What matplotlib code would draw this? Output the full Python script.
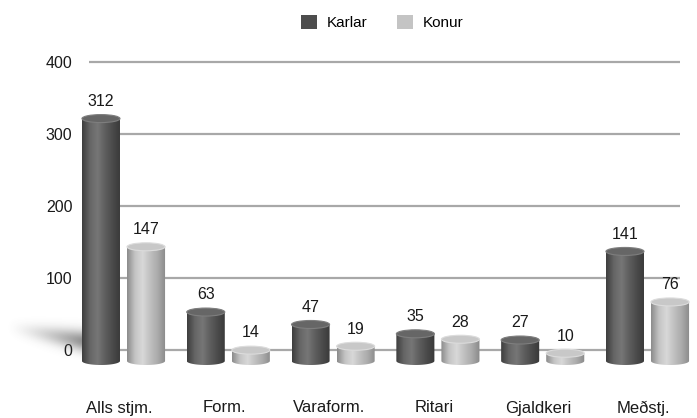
import numpy as np
import matplotlib.pyplot as plt
from matplotlib.colors import LinearSegmentedColormap
from matplotlib.patches import Ellipse, Polygon, Patch

plt.rcParams['font.family'] = ['Liberation Sans', 'DejaVu Sans']

categories = ['Alls stjm.', 'Form.', 'Varaform.', 'Ritari', 'Gjaldkeri', 'Meðstj.']
karlar = [312, 63, 47, 35, 27, 141]
konur = [147, 14, 19, 28, 10, 76]
yticks = [0, 100, 200, 300, 400]

W, H = 697, 418
fig = plt.figure(figsize=(W / 100, H / 100), dpi=100)

# grid / y-axis (flat back wall)
gx0, gx1 = 89, 680
ax = fig.add_axes([gx0 / W, 0, (gx1 - gx0) / W, 1])
ax.set_ylim(-68 / 0.72, (H - 68) / 0.72)
ax.set_xlim(0, 1)
ax.set_yticks(yticks)
ax.set_xticks([])
ax.grid(axis='y', color='#a8a8a8', linewidth=1.6)
ax.tick_params(axis='y', length=0, pad=12, labelsize=11.5, labelcolor='#1a1a1a')
for s in ax.spines.values():
    s.set_visible(False)
ax.patch.set_visible(False)

# bars (slightly larger scale, like the 3d front plane)
px_x, px_y = 104.8, 0.777
bx = fig.add_axes([0, 0, 1, 1])
bx.set_xlim(-123.5 / px_x, (W - 123.5) / px_x)
bx.set_ylim(-57 / px_y, (H - 57) / px_y)
bx.axis('off')

# soft shadow on the left
sx = np.linspace(0, 1, 200)
sy = np.linspace(0, 1, 100)
XX, YY = np.meshgrid(sx, sy)
centre = 0.42 + 0.33 * (1 - XX)
spread = 0.24 - 0.08 * (1 - XX)
alpha = 0.65 * np.exp(-((YY - centre) / spread) ** 2) * XX ** 1.4
shadow = np.zeros(alpha.shape + (4,))
shadow[..., :3] = 0.3
shadow[..., 3] = alpha
bx.imshow(shadow, extent=(-123.5 / px_x + 6 / px_x, -123.5 / px_x + 86 / px_x,
                          (H - 360 - 57) / px_y, (H - 316 - 57) / px_y),
          aspect='auto', origin='lower', zorder=1, interpolation='bilinear')

dark = LinearSegmentedColormap.from_list('d', ['#3e3e3e', '#666666', '#767676', '#5e5e5e', '#4a4a4a', '#383838'])
light = LinearSegmentedColormap.from_list('l', ['#8c8c8c', '#c4c4c4', '#d8d8d8', '#c0c0c0', '#aaaaaa', '#8a8a8a'])

bw, off = 0.363, 0.215
eh = 8 / px_y
x = np.arange(len(categories))


def cylinder(xc, val, cmap, topc, edgec):
    x0, x1 = xc - bw / 2, xc + bw / 2
    t = np.linspace(np.pi, 2 * np.pi, 40)
    bottom = np.column_stack([xc + bw / 2 * np.cos(t), eh / 2 * np.sin(t)])
    pts = np.vstack([[x0, val], bottom, [x1, val]])
    body = Polygon(pts, closed=True, facecolor='none', edgecolor='none', zorder=3)
    bx.add_patch(body)
    im = bx.imshow(np.linspace(0, 1, 64)[None, :], cmap=cmap, aspect='auto',
                   extent=(x0, x1, -eh, val), zorder=3, interpolation='bilinear')
    im.set_clip_path(body)
    bx.add_patch(Ellipse((xc, val), bw, eh, facecolor=topc, edgecolor=edgec,
                         linewidth=0.8, zorder=4))


for i in range(len(categories)):
    cylinder(x[i] - off, karlar[i], dark, '#666666', '#7e7e7e')
    cylinder(x[i] + off, konur[i], light, '#c8c8c8', '#dcdcdc')
    bx.annotate(str(karlar[i]), (x[i] - off, karlar[i]), xytext=(0, 7),
                textcoords='offset points', ha='center', va='bottom',
                fontsize=11.5, color='#1a1a1a', zorder=5)
    bx.annotate(str(konur[i]), (x[i] + off, konur[i]), xytext=(0, 7),
                textcoords='offset points', ha='center', va='bottom',
                fontsize=11.5, color='#1a1a1a', zorder=5)
    bx.text(x[i] - 0.04, (H - 408 - 57) / px_y, categories[i], ha='center', va='center',
            fontsize=12, color='#1a1a1a')

handles = [Patch(facecolor='#4d4d4d', edgecolor='none', label='Karlar'),
           Patch(facecolor='#c4c4c4', edgecolor='none', label='Konur')]
fig.legend(handles=handles, loc='upper center', bbox_to_anchor=(382 / W, 1 - 1 / H),
           ncol=2, frameon=False, fontsize=11, handlelength=1.05, handleheight=1.05,
           columnspacing=1.9, handletextpad=0.65)

fig.savefig('out.png', dpi=100)
